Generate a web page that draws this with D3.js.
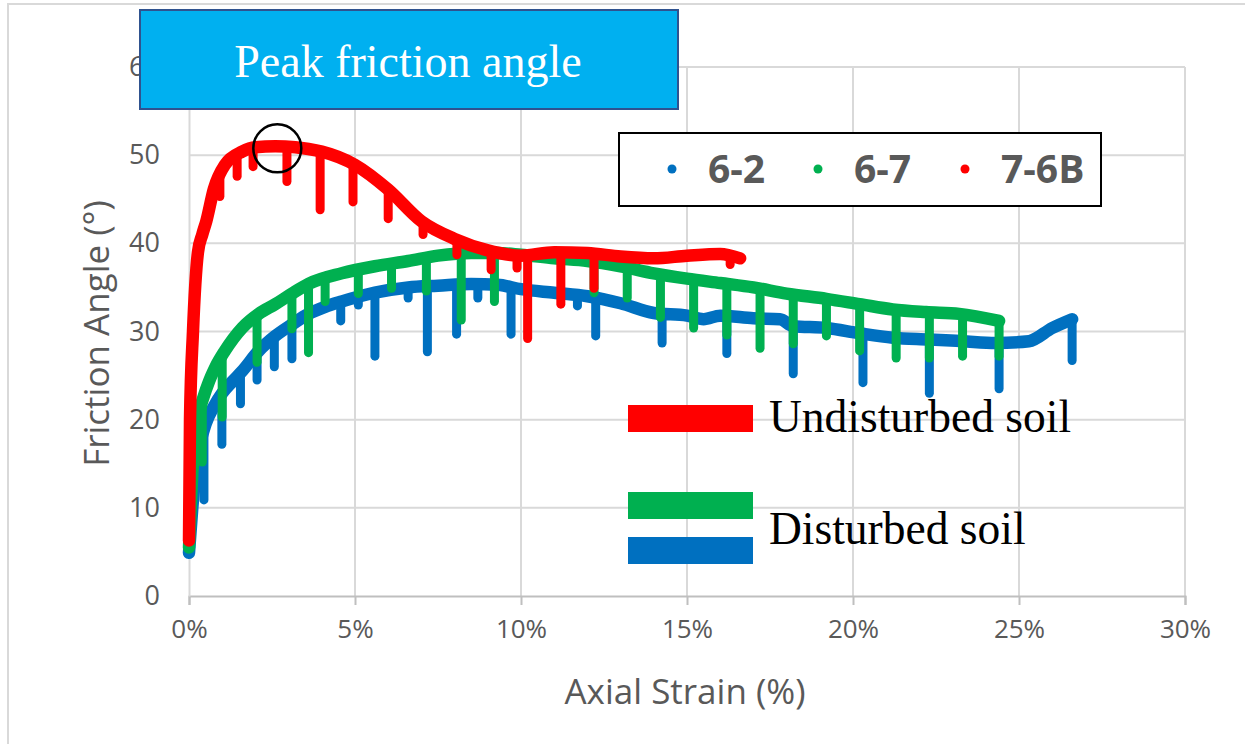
<!DOCTYPE html>
<html>
<head>
<meta charset="utf-8">
<script src="https://cdn.jsdelivr.net/npm/d3@7"></script>
<style>
  body { margin: 0; background: #fff; }
  text { font-family: "Open Sans", sans-serif; }
  .serif { font-family: "Liberation Serif", "Times New Roman", serif; }
</style>
</head>
<body>
<div id="chart"></div>
<script>
// Datos (deformación axial %, ángulo de fricción °)
const strainTicks = [0, 5, 10, 15, 20, 25, 30];
const angleTicks = [0, 10, 20, 30, 40, 50, 60];
const seriesNames = ['6-2', '6-7', '7-6B'];

const curve62 = [[0,4.9],[0.1,10],[0.2,14],[0.35,17.5],[0.5,19.5],[0.75,21.5],[1.0,23],[1.3,24.3],[1.6,25.5],[2.1,27.8],[2.6,29.5],[3.1,30.8],[3.6,32],[4.1,32.8],[4.6,33.4],[5.6,34.4],[6.6,35],[7.5,35.2],[8.5,35.4],[9.3,35.3],[10,34.8],[11,34.4],[12,34],[13,33.2],[14,32.1],[15,31.8],[15.5,31.4],[16,31.8],[17,31.5],[17.8,31.4],[18.2,30.6],[19.2,30.4],[20.2,29.8],[21.2,29.3],[22.3,29.1],[23.3,28.9],[24.3,28.7],[25.3,28.9],[26,30.4],[26.6,31.4]];
const drops62 = [[0.45,10.9],[0.99,17.2],[1.55,21.8],[2.05,24.5],[2.57,26],[3.1,26.9],[4.57,31.2],[5.1,33],[5.6,27.2],[6.6,33.8],[7.18,27.7],[8.06,29.7],[8.7,33.8],[9.7,29.7],[11.7,32.9],[12.25,29.5],[14.25,28.7],[16.2,27.5],[18.2,25.2],[20.3,24.2],[22.3,23],[24.4,23.5],[26.6,26.7]];

const curve67 = [[0,5.5],[0.05,10],[0.1,14],[0.2,18],[0.3,20.5],[0.57,24],[0.8,26],[1.08,27.8],[1.6,30.4],[2.1,32],[2.6,33.1],[3.1,34.3],[3.6,35.4],[4.6,36.6],[5.6,37.4],[6.6,38],[7.5,38.6],[8.5,38.9],[9.3,38.9],[10,38.7],[11,38.3],[12,38],[13,37.4],[14,36.6],[15,36],[16,35.5],[17,35],[18,34.3],[19.2,33.7],[20.2,33.1],[21.2,32.5],[22.2,32.2],[23.2,32],[24.4,31.2]];
const drops67 = [[0.4,15.2],[1.0,20.3],[2.05,26.5],[3.1,30.3],[3.6,27.6],[4.1,33.4],[5.1,34.3],[6.1,34.9],[7.15,34.6],[8.2,31.3],[9.2,33.4],[12.2,34.4],[13.2,33.8],[14.2,31.6],[15.2,30.4],[16.2,29.6],[17.2,28.1],[18.2,28.6],[19.2,29.5],[20.2,27.8],[21.3,27],[22.3,27],[23.3,27.2],[24.4,27.2]];

const curve76B = [[0,6.3],[0.03,20],[0.12,30],[0.27,39],[0.4,41],[0.52,42.5],[0.75,46.2],[1.08,48.9],[1.6,50.4],[2.0,50.9],[2.6,51],[3.2,50.9],[3.6,50.7],[4.0,50.4],[5.0,48.9],[6.0,46.1],[7.0,42.5],[8.0,40.5],[9.0,39.2],[10.0,38.6],[11,39],[12,38.9],[13,38.5],[14,38.3],[15,38.6],[16,38.8],[16.6,38.3]];
const drops76B = [[0.93,45.3],[1.45,47.6],[1.93,48.7],[2.95,47],[3.95,43.8],[4.94,44.7],[6.0,42.8],[7.05,41],[8.07,38.7],[9.1,37],[9.88,37.2],[10.2,29.2],[11.2,33.1],[12.2,34.9],[16.3,37.6]];

//Colores
const blue = '#0070C0', green = '#00B050', red = '#FF0000', grid = '#d9d9d9', txt = '#595959';

const width = 1245, height = 744;
const margin = {left: 189, right: 60, top: 67, bottom: 148};

const svg = d3.select('#chart').append('svg')
    .attr('width', width)
    .attr('height', height);

// Marco del gráfico
svg.append('path')
    .attr('d', 'M8,' + height + 'V4H' + width)
    .attr('fill', 'none')
    .attr('stroke', grid)
    .attr('stroke-width', 2);

const x = d3.scaleLinear().domain([0, 30]).range([margin.left, width - margin.right]);
const y = d3.scaleLinear().domain([0, 60]).range([height - margin.bottom, margin.top]);

// Rejilla
svg.append('g')
    .selectAll('line')
    .data(angleTicks.slice(1))
    .enter().append('line')
    .attr('x1', x(0)).attr('x2', x(30))
    .attr('y1', d => y(d)).attr('y2', d => y(d))
    .attr('stroke', grid).attr('stroke-width', 2);

svg.append('g')
    .selectAll('line')
    .data(strainTicks.slice(1))
    .enter().append('line')
    .attr('x1', d => x(d)).attr('x2', d => x(d))
    .attr('y1', y(0)).attr('y2', y(60))
    .attr('stroke', grid).attr('stroke-width', 2);

// Eje X
const xAxis = svg.append('g')
    .attr('transform', 'translate(0,' + y(0) + ')')
    .call(d3.axisBottom(x).tickValues(strainTicks).tickSize(9).tickPadding(15).tickFormat(d => d + '%'));
xAxis.select('.domain').attr('stroke', '#bfbfbf').attr('stroke-width', 2);
xAxis.selectAll('.tick line').attr('stroke', '#bfbfbf').attr('stroke-width', 2);
xAxis.selectAll('.tick text').attr('fill', txt).style('font-size', '26px').style('font-family', '"Open Sans", sans-serif');

// Eje Y
const yAxis = svg.append('g')
    .attr('transform', 'translate(' + x(0) + ',0)')
    .call(d3.axisLeft(y).tickValues(angleTicks).tickSize(0).tickPadding(29));
yAxis.select('.domain').attr('stroke', grid).attr('stroke-width', 2);
yAxis.selectAll('.tick text').attr('fill', txt).style('font-size', '27px').style('font-family', '"Open Sans", sans-serif');

// Títulos de ejes
svg.append('text')
    .attr('x', x(15) - 2).attr('y', 704)
    .attr('text-anchor', 'middle')
    .attr('fill', txt)
    .style('font-size', '35px')
    .text('Axial Strain (%)');

svg.append('text')
    .attr('transform', 'translate(109,' + (y(30) + 2) + ') rotate(-90)')
    .attr('text-anchor', 'middle')
    .attr('fill', txt)
    .style('font-size', '35px')
    .text('Friction Angle (°)');

// Series
const series = [
    {name: seriesNames[0], color: blue, curve: curve62, drops: drops62},
    {name: seriesNames[1], color: green, curve: curve67, drops: drops67},
    {name: seriesNames[2], color: red, curve: curve76B, drops: drops76B}
];

const line = d3.line()
    .x(d => x(d[0]))
    .y(d => y(d[1]))
    .curve(d3.curveMonotoneX);

series.forEach(function(s) {
    const g = svg.append('g');
    // valor de la curva en cada descarga
    const along = d3.scaleLinear().domain(s.curve.map(d => d[0])).range(s.curve.map(d => d[1]));

    g.selectAll('line')
        .data(s.drops)
        .enter().append('line')
        .attr('x1', d => x(d[0])).attr('x2', d => x(d[0]))
        .attr('y1', d => y(along(d[0]))).attr('y2', d => y(d[1]))
        .attr('stroke', s.color)
        .attr('stroke-width', 9)
        .attr('stroke-linecap', 'round');

    g.append('path')
        .datum(s.curve)
        .attr('d', line)
        .attr('fill', 'none')
        .attr('stroke', s.color)
        .attr('stroke-width', 12.5)
        .attr('stroke-linejoin', 'round')
        .attr('stroke-linecap', 'round');
});

// Círculo en el pico
const peak = d3.greatest(curve76B, d => d[1]);
svg.append('circle')
    .attr('cx', x(peak[0]) + 2).attr('cy', y(peak[1]) + 2)
    .attr('r', 24)
    .attr('fill', 'none')
    .attr('stroke', '#000')
    .attr('stroke-width', 2.5);

// Cuadro de título
svg.append('rect')
    .attr('x', 140).attr('y', 10)
    .attr('width', 538).attr('height', 99)
    .attr('fill', '#00B0F0')
    .attr('stroke', '#2F528F')
    .attr('stroke-width', 2);

svg.append('text')
    .attr('class', 'serif')
    .attr('x', 408).attr('y', 77)
    .attr('text-anchor', 'middle')
    .attr('fill', '#fff')
    .style('font-size', '46px')
    .text('Peak friction angle');

// Leyenda de series
const legend = svg.append('g');
legend.append('rect')
    .attr('x', 619).attr('y', 133)
    .attr('width', 482).attr('height', 73)
    .attr('fill', '#fff')
    .attr('stroke', '#000')
    .attr('stroke-width', 2);

const legX = [672, 818, 965];
series.forEach(function(s, i) {
    legend.append('circle')
        .attr('cx', legX[i]).attr('cy', 169)
        .attr('r', 4.5)
        .attr('fill', s.color);
    legend.append('text')
        .attr('x', legX[i] + 36).attr('y', 183)
        .attr('fill', txt)
        .style('font-size', '39px')
        .style('font-weight', 'bold')
        .text(s.name);
});

// Leyenda de tipos de suelo
const soil = svg.append('g');
[[red, 405], [green, 492], [blue, 537]].forEach(function(d) {
    soil.append('rect')
        .attr('x', 628).attr('y', d[1])
        .attr('width', 125).attr('height', 27)
        .attr('fill', d[0]);
});

soil.append('text')
    .attr('class', 'serif')
    .attr('x', 769).attr('y', 432)
    .attr('fill', '#000')
    .style('font-size', '45.5px')
    .text('Undisturbed soil');

soil.append('text')
    .attr('class', 'serif')
    .attr('x', 769).attr('y', 544)
    .attr('fill', '#000')
    .style('font-size', '45.5px')
    .text('Disturbed soil');
</script>
</body>
</html>
